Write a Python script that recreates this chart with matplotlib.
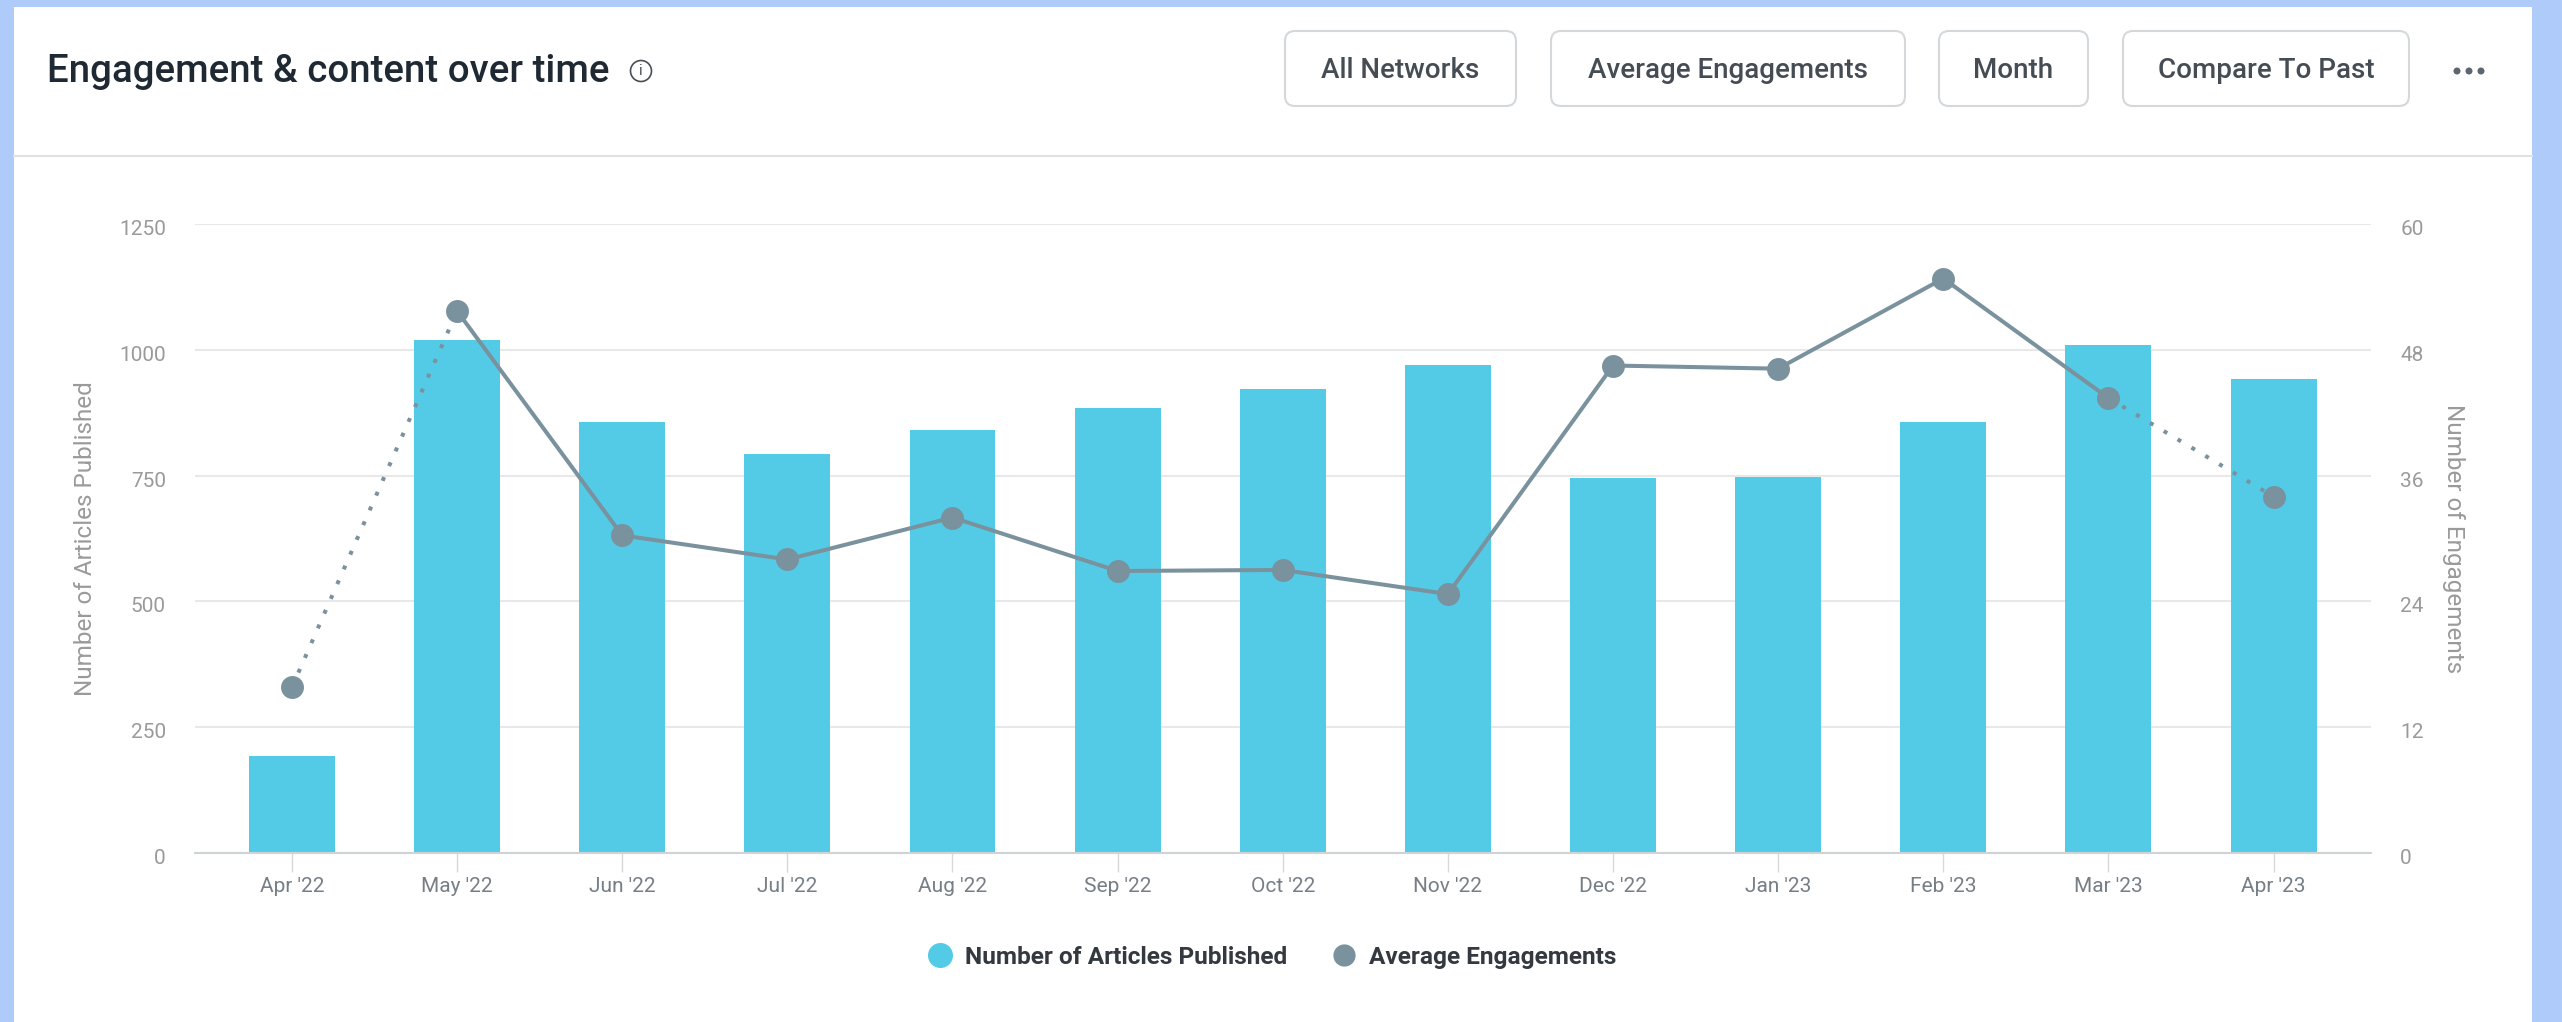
import matplotlib
matplotlib.use("Agg")
import matplotlib.pyplot as plt
import numpy as np
from matplotlib.lines import Line2D
from matplotlib.patches import Circle, FancyBboxPatch, Rectangle
from matplotlib.transforms import ScaledTranslation

W, H = 2562, 1022

months = ["Apr '22", "May '22", "Jun '22", "Jul '22", "Aug '22", "Sep '22", "Oct '22",
          "Nov '22", "Dec '22", "Jan '23", "Feb '23", "Mar '23", "Apr '23"]
articles = [193, 1020, 857, 793, 840, 885, 922, 970, 745, 748, 857, 1010, 942]
engagements = [15.8, 51.7, 30.3, 28.0, 32.0, 26.9, 27.0, 24.7, 46.5, 46.2, 54.8, 43.4, 34.0]
left_ticks = [0, 250, 500, 750, 1000, 1250]
right_ticks = [0, 12, 24, 36, 48, 60]
buttons = ["All Networks", "Average Engagements", "Month", "Compare To Past"]

BAR = "#54cbe6"
LINE = "#7a919e"
GREY = "#9a9a9a"
GRID = "#e8e8e8"

plt.rcParams["font.family"] = ["Roboto", "DejaVu Sans"]

fig = plt.figure(figsize=(W / 100, H / 100), dpi=100, facecolor="#aecbfa")

# card, header and buttons, drawn in pixel coordinates
bg = fig.add_axes([0, 0, 1, 1])
bg.set_xlim(0, W)
bg.set_ylim(H, 0)
bg.axis("off")
bg.add_patch(Rectangle((14, 7), 2518, H - 7, fc="white", ec="none"))
bg.plot([14, 2532], [156, 156], color="#dfe2e4", lw=1.5)
bg.text(47, 72, "Engagement & content over time", fontsize=27.7, fontweight=500,
        color="#1f2933", va="center", ha="left")
bg.add_patch(Circle((641, 71), 10.5, fc="none", ec="#4a4f55", lw=1.2))
bg.text(641, 71, "i", fontsize=11, color="#4a4f55", ha="center", va="center")

button_edges = [(1285, 1516), (1551, 1905), (1939, 2088), (2123, 2409)]
for label, (x0, x1) in zip(buttons, button_edges):
    bg.add_patch(FancyBboxPatch((x0 + 10, 41), x1 - x0 - 20, 55,
                                boxstyle="round,pad=10,rounding_size=10",
                                fc="white", ec="#d5d8db", lw=1.5))
    bg.text((x0 + x1) / 2, 71, label, fontsize=20, fontweight=500, color="#454c53",
            ha="center", va="center")
for dx in (-12, 0, 12):
    bg.add_patch(Circle((2469 + dx, 71), 3.5, fc="#5c6670", ec="none"))

# chart
ax = fig.add_axes([195 / W, 1 - 853 / H, (2371 - 195) / W, (853 - 224) / H], facecolor="none")
x = np.arange(len(months))
ax.bar(x, articles, width=0.52, color=BAR, zorder=2)
ax.set_xlim(-0.587, 12.59)
ax.set_ylim(0, 1250)
ax.set_yticks(left_ticks)
ax.set_xticks(x)
ax.set_xticklabels(months)
ax.grid(axis="y", color=GRID, lw=1.5, zorder=0)
ax.set_axisbelow(True)
for s in ["top", "left", "right"]:
    ax.spines[s].set_visible(False)
ax.spines["bottom"].set_color("#d0d3d6")
ax.spines["bottom"].set_linewidth(1.5)
ax.tick_params(axis="x", length=14, width=1, color="#d8d8d8", labelcolor="#777f86",
               labelsize=15, pad=3.5)
ax.tick_params(axis="y", length=0, labelcolor=GREY, labelsize=15, pad=21)
ax.set_ylabel("Number of Articles Published", fontsize=17.5, color=GREY)
ax.yaxis.set_label_coords((97 - 195) / (2371 - 195), 0.5)

ax2 = ax.twinx()
ax2.set_facecolor("none")
ax2.set_ylim(0, 60)
ax2.set_yticks(right_ticks)
ax2.tick_params(axis="y", length=0, labelcolor=GREY, labelsize=15, pad=21)
for s in ax2.spines.values():
    s.set_visible(False)
ax2.set_ylabel("Number of Engagements", fontsize=17.5, color=GREY, rotation=270, va="center")
ax2.yaxis.set_label_coords((2454 - 195) / (2371 - 195), 0.5)

# y tick labels sit a little below their grid lines
shift = ScaledTranslation(0, -3.5 / 100, fig.dpi_scale_trans)
for lab in ax.get_yticklabels() + ax2.get_yticklabels():
    lab.set_transform(lab.get_transform() + shift)

ax2.plot(x[1:12], engagements[1:12], color=LINE, lw=2.9, zorder=3)
dots = (0, (1, 3))
ax2.plot(x[:2], engagements[:2], color=LINE, lw=2.9, ls=dots, zorder=3)
ax2.plot(x[11:], engagements[11:], color=LINE, lw=2.9, ls=dots, zorder=3)
ax2.plot(x, engagements, ls="none", marker="o", ms=15.5, mfc=LINE, mec=LINE, zorder=4)

handles = [
    Line2D([], [], ls="none", marker="o", ms=17, color=BAR, label="Number of Articles Published"),
    Line2D([], [], ls="none", marker="o", ms=15, color=LINE, label="Average Engagements"),
]
fig.legend(handles=handles, ncol=2, loc="center", bbox_to_anchor=(1266 / W, 1 - 957 / H),
           frameon=False, prop={"size": 17.6, "weight": "bold"}, labelcolor="#33393f",
           columnspacing=1.3, handletextpad=0.05)

fig.savefig("out.png", dpi=100, facecolor=fig.get_facecolor())
